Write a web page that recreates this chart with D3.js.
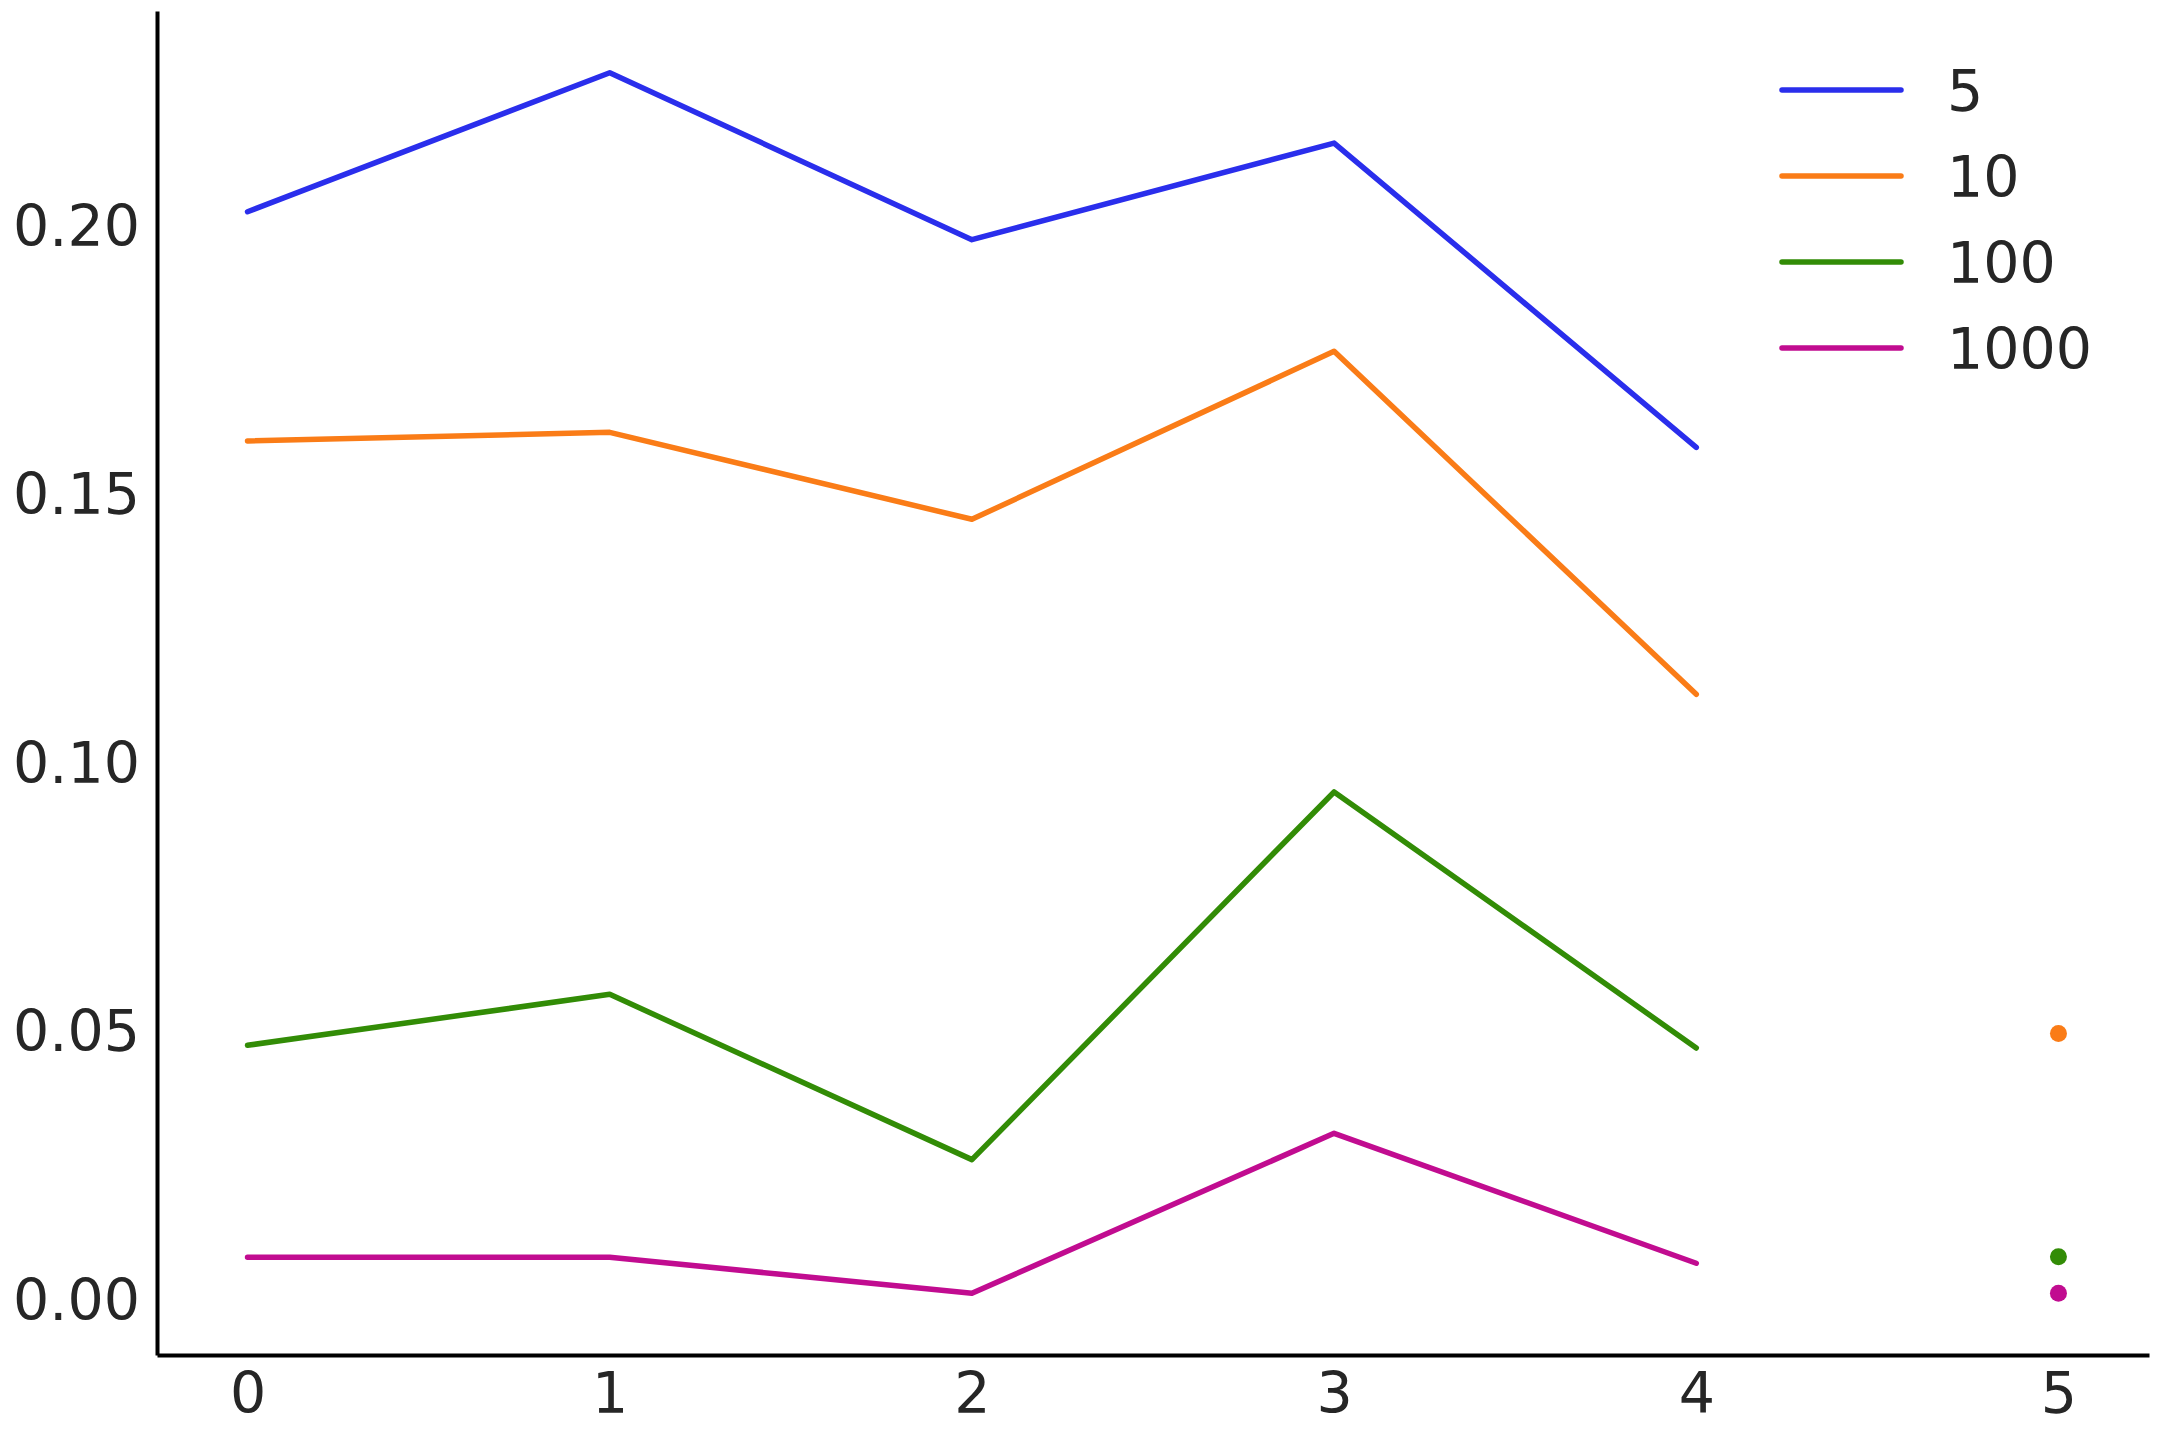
<!DOCTYPE html>
<html>
<head>
<meta charset="utf-8">
<script src="https://cdn.jsdelivr.net/npm/d3@7"></script>
<style>
  body { margin: 0; background: #fff; }
  text { font-family: "DejaVu Sans", sans-serif; fill: #262626; }
</style>
</head>
<body>
<script>
var width = 2160,
    height = 1440;

// data
var xValues = [0, 1, 2, 3, 4];
var seriesNames = ["5", "10", "100", "1000"];
var seriesColors = ["#2a2eec", "#fa7c17", "#328c06", "#c10c90"];
var values5 = [0.2029, 0.2288, 0.1977, 0.2157, 0.1590];
var values10 = [0.1602, 0.1618, 0.1456, 0.1769, 0.1130];
var values100 = [0.0476, 0.0571, 0.0263, 0.0948, 0.0471];
var values1000 = [0.0081, 0.0081, 0.0014, 0.0312, 0.0070];
// lone points at x = 5 (none for series "5")
var pointX = 5;
var pointValues = [null, 0.0498, 0.0082, 0.0014];
var yTicks = [0, 0.05, 0.10, 0.15, 0.20];
var xTicks = [0, 1, 2, 3, 4, 5];

var allSeries = [values5, values10, values100, values1000];

// plot area (note: "top" is taken by window.top)
var plotLeft = 157, plotRight = 2149, plotTop = 11, plotBottom = 1355;

var xScale = d3.scaleLinear()
    .domain([-0.25, 5.25])
    .range([plotLeft, plotRight]);

var yScale = d3.scaleLinear()
    .domain([-0.0101, 0.2403])
    .range([plotBottom, plotTop]);

var svg = d3.select("body")
    .append("svg")
    .attr("width", width)
    .attr("height", height);

// lines
var line = d3.line()
    .x(function(d, i) { return xScale(xValues[i]); })
    .y(function(d) { return yScale(d); });

svg.selectAll("path.series")
    .data(allSeries)
    .enter()
    .append("path")
    .attr("class", "series")
    .attr("d", line)
    .attr("fill", "none")
    .attr("stroke", function(d, i) { return seriesColors[i]; })
    .attr("stroke-width", 5.5)
    .attr("stroke-linecap", "round")
    .attr("stroke-linejoin", "round");

// points at x = 5
svg.selectAll("circle")
    .data(pointValues.map(function(v, i) { return {v: v, i: i}; })
        .filter(function(d) { return d.v !== null; }))
    .enter()
    .append("circle")
    .attr("cx", xScale(pointX))
    .attr("cy", function(d) { return yScale(d.v); })
    .attr("r", 8.5)
    .attr("fill", function(d) { return seriesColors[d.i]; });

// axes
var xAxis = d3.axisBottom(xScale).tickValues(xTicks).tickSize(0).tickPadding(18)
    .tickFormat(d3.format("d"));
var yAxis = d3.axisLeft(yScale).tickValues(yTicks).tickSize(0).tickPadding(17)
    .tickFormat(d3.format(".2f"));

var gx = svg.append("g")
    .attr("transform", "translate(0," + plotBottom + ")")
    .call(xAxis);
var gy = svg.append("g")
    .attr("transform", "translate(" + plotLeft + ",0)")
    .call(yAxis);

[gx, gy].forEach(function(g) {
    g.select(".domain").attr("stroke", "#000").attr("stroke-width", 4);
    g.selectAll("text")
        .style("font-size", "57px")
        .attr("fill", "#262626");
});

// legend
var legend = svg.append("g");
seriesNames.forEach(function(name, i) {
    var y = 90 + i * 86;
    legend.append("line")
        .attr("x1", 1782).attr("x2", 1901)
        .attr("y1", y).attr("y2", y)
        .attr("stroke", seriesColors[i])
        .attr("stroke-width", 5.5)
        .attr("stroke-linecap", "round");
    legend.append("text")
        .attr("x", 1947)
        .attr("y", y)
        .attr("dy", "0.36em")
        .style("font-size", "57px")
        .text(name);
});
</script>
</body>
</html>
